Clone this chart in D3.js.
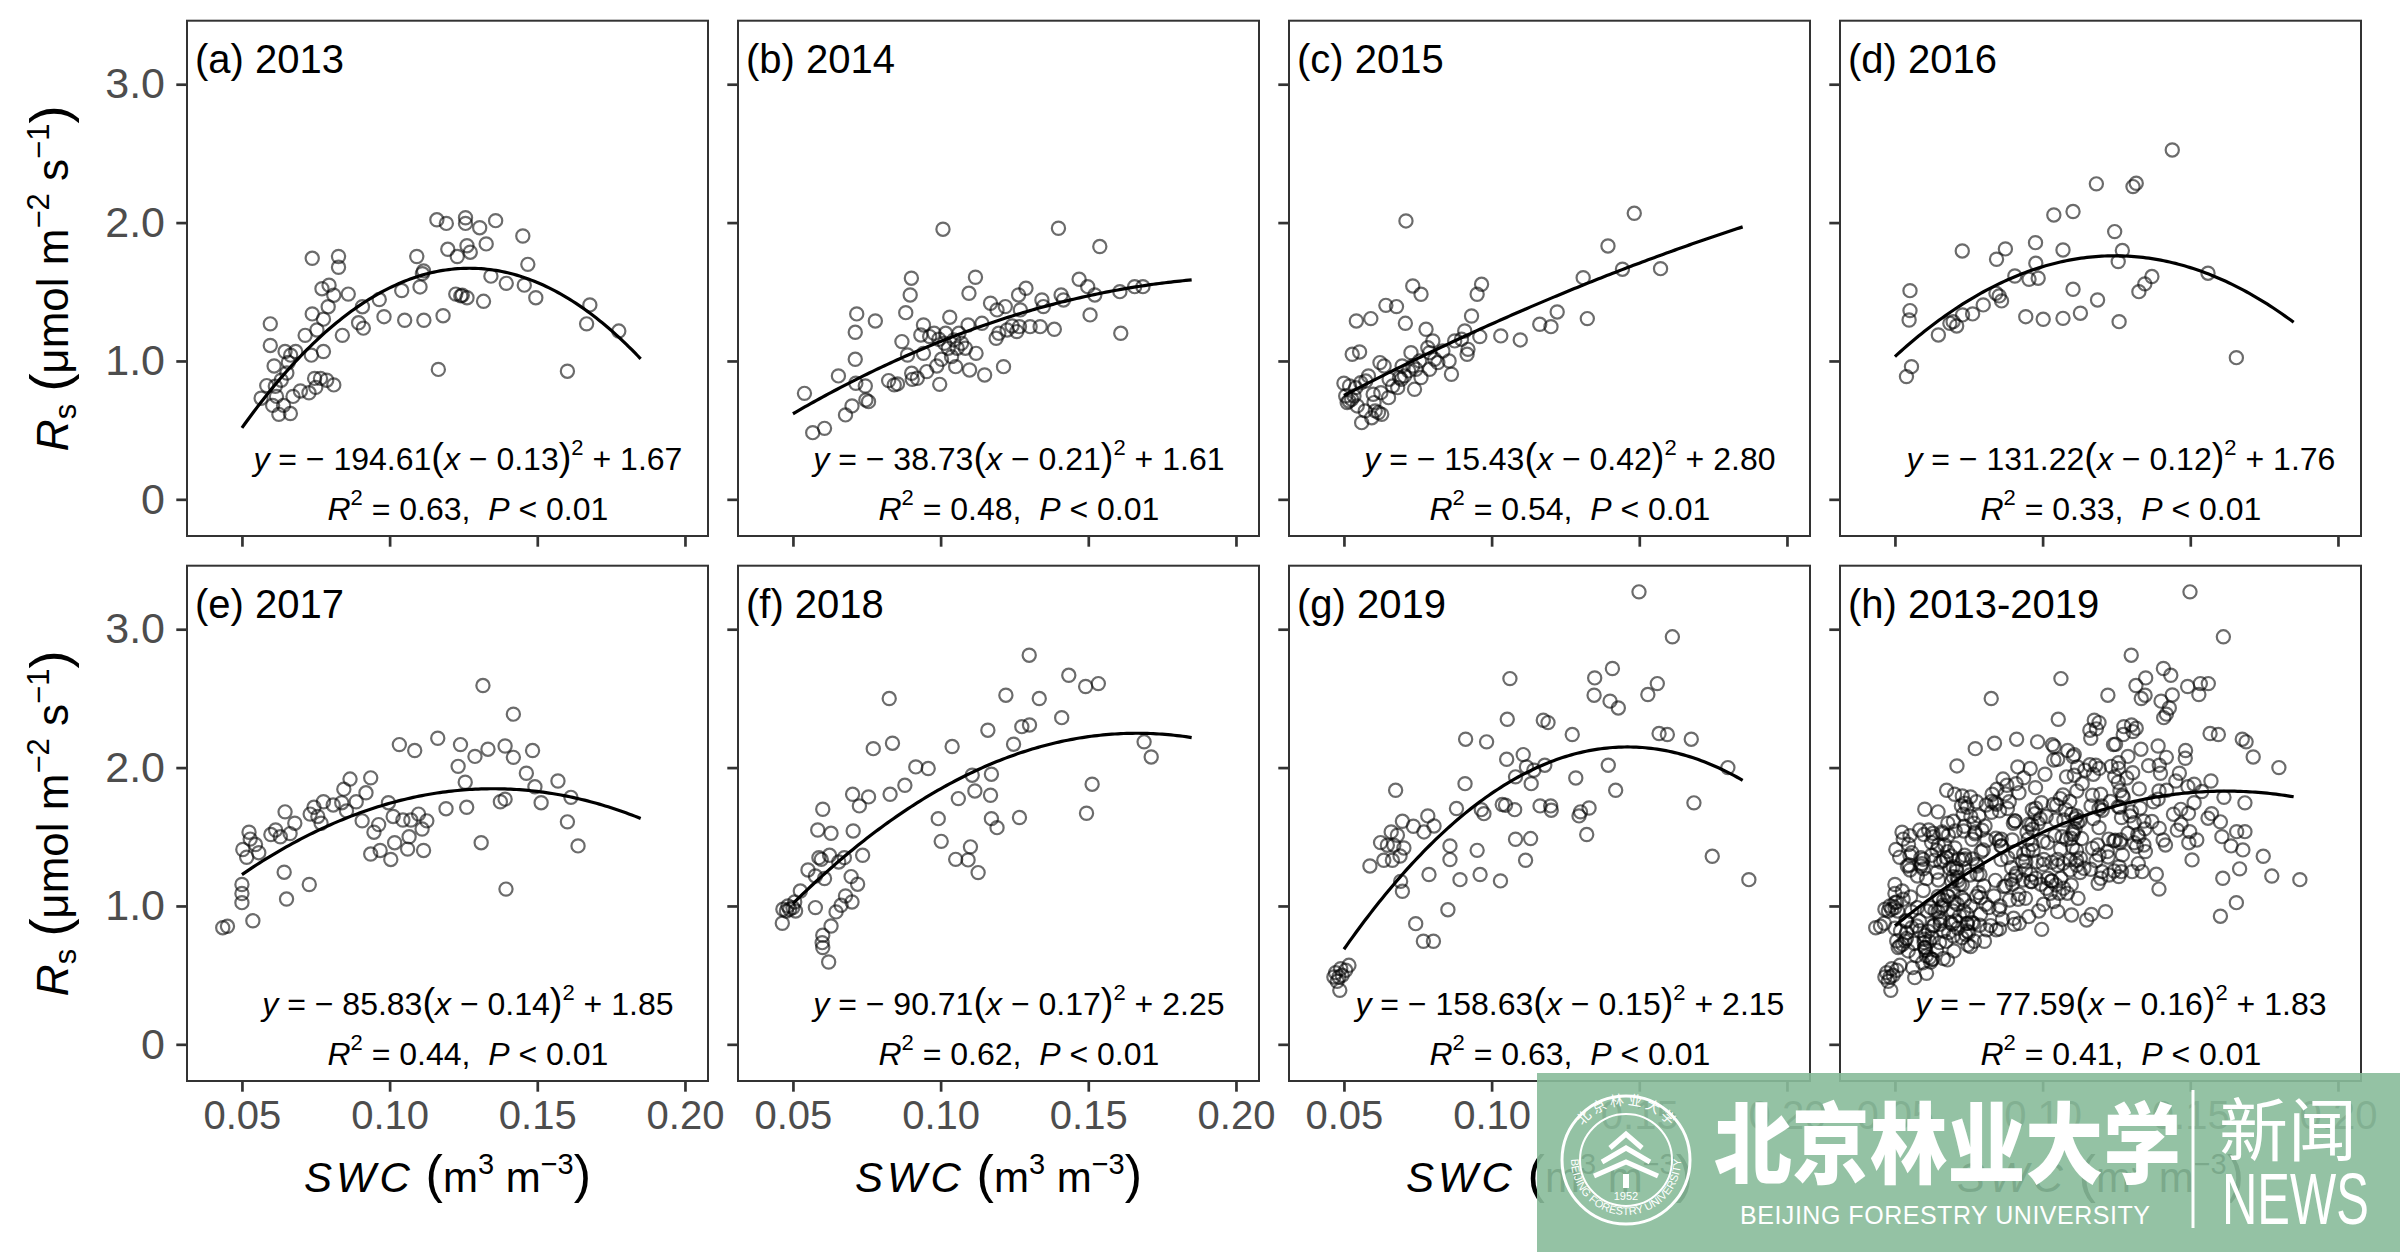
<!DOCTYPE html>
<html>
<head>
<meta charset="utf-8">
<script src="https://cdn.jsdelivr.net/npm/d3@7"></script>
<style>
  body { margin: 0; background: #fff; }
  svg { display: block; font-family: 'Liberation Sans', Arial, sans-serif; }
  text { white-space: pre; }
</style>
</head>
<body>
<div id="chart"></div>
<script>
/* global d3 */

// ---- data (SWC, Rs) ----
const panelTitles = ['(a) 2013', '(b) 2014', '(c) 2015', '(d) 2016', '(e) 2017', '(f) 2018', '(g) 2019', '(h) 2013-2019'];

const obs2013 = [[0.0565,0.731],[0.0584,0.822],[0.0596,1.268],[0.0596,1.112],[0.0604,0.679],[0.0609,0.964],[0.0613,0.817],[0.0617,0.744],[0.0625,0.614],[0.0633,0.861],[0.0641,0.679],[0.0646,1.068],[0.0652,0.913],[0.0657,0.990],[0.0664,0.620],[0.0665,1.042],[0.0673,0.744],[0.0682,1.068],[0.0698,0.783],[0.0714,1.185],[0.0727,0.770],[0.0735,1.042],[0.0738,1.742],[0.0738,1.340],[0.0746,0.874],[0.0750,0.809],[0.0754,1.224],[0.0766,0.874],[0.0771,1.522],[0.0776,1.068],[0.0776,1.302],[0.0787,0.861],[0.0792,1.392],[0.0795,1.548],[0.0811,0.827],[0.0811,1.475],[0.0827,1.755],[0.0827,1.677],[0.0840,1.185],[0.0860,1.483],[0.0895,1.276],[0.0908,1.392],[0.0911,1.237],[0.0965,1.444],[0.0981,1.320],[0.1041,1.509],[0.1051,1.294],[0.1092,1.755],[0.1103,1.535],[0.1111,1.631],[0.1116,1.294],[0.1115,1.651],[0.1160,2.020],[0.1165,0.939],[0.1181,1.327],[0.1192,1.994],[0.1197,1.807],[0.1224,1.483],[0.1229,1.755],[0.1241,1.470],[0.1246,1.475],[0.1257,2.035],[0.1262,1.833],[0.1262,1.457],[0.1273,1.786],[0.1305,1.963],[0.1318,1.431],[0.1327,1.846],[0.1343,1.613],[0.1359,2.014],[0.1395,1.561],[0.1451,1.903],[0.1456,1.548],[0.1468,1.698],[0.1495,1.457],[0.1602,0.926],[0.1667,1.268],[0.1678,1.405],[0.1776,1.216],[0.1257,1.994]];

const obs2014 = [[0.0539,0.766],[0.0567,0.482],[0.0607,0.513],[0.0654,0.892],[0.0678,0.610],[0.0700,0.675],[0.0711,1.012],[0.0711,1.207],[0.0716,1.340],[0.0713,0.839],[0.0745,0.819],[0.0747,0.718],[0.0756,0.706],[0.0779,1.289],[0.0824,0.858],[0.0843,0.827],[0.0854,0.834],[0.0869,1.140],[0.0882,1.349],[0.0888,1.043],[0.0897,1.477],[0.0901,1.598],[0.0902,0.911],[0.0904,0.867],[0.0921,0.875],[0.0933,1.188],[0.0942,1.260],[0.0942,1.055],[0.0953,0.923],[0.0963,1.176],[0.0978,1.200],[0.0987,0.964],[0.0994,1.157],[0.0997,0.831],[0.1003,1.012],[0.1008,1.952],[0.1013,1.128],[0.1017,1.200],[0.1026,1.092],[0.1031,1.316],[0.1037,1.031],[0.1045,1.152],[0.1051,0.959],[0.1056,1.092],[0.1062,1.200],[0.1071,1.128],[0.1084,1.092],[0.1093,1.260],[0.1096,1.489],[0.1098,0.935],[0.1118,1.605],[0.1120,1.055],[0.1140,1.272],[0.1149,0.899],[0.1169,1.417],[0.1188,1.164],[0.1191,1.369],[0.1197,1.200],[0.1213,0.959],[0.1219,1.393],[0.1225,1.224],[0.1242,1.253],[0.1258,1.212],[0.1264,1.477],[0.1270,1.369],[0.1267,1.248],[0.1289,1.525],[0.1303,1.248],[0.1337,1.248],[0.1343,1.441],[0.1348,1.393],[0.1385,1.229],[0.1399,1.959],[0.1408,1.477],[0.1416,1.441],[0.1469,1.590],[0.1498,1.537],[0.1506,1.333],[0.1522,1.477],[0.1539,1.827],[0.1607,1.501],[0.1610,1.200],[0.1657,1.537],[0.1685,1.537]];

const obs2015 = [[0.0500,0.839],[0.0506,0.747],[0.0511,0.699],[0.0519,0.819],[0.0526,0.723],[0.0534,0.747],[0.0528,1.048],[0.0542,1.289],[0.0545,0.675],[0.0553,1.065],[0.0557,0.843],[0.0560,0.554],[0.0572,0.639],[0.0583,0.892],[0.0591,1.306],[0.0594,0.590],[0.0599,0.759],[0.0606,0.639],[0.0617,0.627],[0.0622,0.988],[0.0628,0.614],[0.0636,0.964],[0.0642,1.402],[0.0651,0.735],[0.0653,0.867],[0.0678,1.393],[0.0682,0.807],[0.0688,0.880],[0.0697,0.964],[0.0705,0.892],[0.0708,1.272],[0.0710,2.012],[0.0719,0.928],[0.0727,1.060],[0.0733,1.542],[0.0733,0.964],[0.0739,0.795],[0.0744,0.940],[0.0756,1.000],[0.0761,1.482],[0.0761,0.880],[0.0778,1.229],[0.0784,1.096],[0.0790,0.940],[0.0801,1.145],[0.0807,1.012],[0.0818,0.988],[0.0835,1.072],[0.0856,1.000],[0.0864,0.904],[0.0875,1.145],[0.0898,1.157],[0.0909,1.217],[0.0917,1.048],[0.0920,1.084],[0.0932,1.325],[0.0951,1.482],[0.0960,1.176],[0.0966,1.554],[0.1031,1.181],[0.1097,1.152],[0.1163,1.265],[0.1201,1.248],[0.1222,1.354],[0.1310,1.602],[0.1324,1.306],[0.1394,1.831],[0.1443,1.663],[0.1483,2.067],[0.1572,1.667],[0.0517,0.711],[0.0540,0.807],[0.0574,0.855],[0.0602,0.699],[0.0625,0.771],[0.0665,0.819],[0.0694,0.867],[0.0790,1.060]];

const obs2016 = [[0.0539,0.887],[0.0556,0.959],[0.0548,1.296],[0.0551,1.364],[0.0551,1.508],[0.0647,1.188],[0.0686,1.272],[0.0697,1.284],[0.0709,1.253],[0.0729,1.333],[0.0728,1.795],[0.0763,1.340],[0.0799,1.405],[0.0842,1.489],[0.0844,1.735],[0.0853,1.470],[0.0861,1.434],[0.0874,1.810],[0.0906,1.614],[0.0943,1.320],[0.0954,1.590],[0.0976,1.855],[0.0977,1.706],[0.0985,1.598],[0.1002,1.301],[0.1038,2.055],[0.1069,1.802],[0.1069,1.308],[0.1103,2.080],[0.1103,1.518],[0.1128,1.345],[0.1182,2.280],[0.1186,1.441],[0.1244,1.935],[0.1256,1.718],[0.1270,1.798],[0.1259,1.284],[0.1306,2.260],[0.1317,2.284],[0.1326,1.501],[0.1346,1.557],[0.1370,1.610],[0.1439,2.525],[0.1560,1.634],[0.1656,1.024]];

const obs2017 = [[0.0435,0.843],[0.0451,0.853],[0.0500,1.155],[0.0500,1.090],[0.0500,1.024],[0.0503,1.408],[0.0516,1.352],[0.0524,1.533],[0.0528,1.483],[0.0537,0.893],[0.0546,1.444],[0.0557,1.385],[0.0598,1.516],[0.0614,1.549],[0.0630,1.500],[0.0643,1.244],[0.0646,1.680],[0.0651,1.050],[0.0663,1.523],[0.0679,1.598],[0.0728,1.155],[0.0731,1.664],[0.0744,1.713],[0.0757,1.647],[0.0776,1.753],[0.0768,1.598],[0.0809,1.730],[0.0838,1.746],[0.0845,1.844],[0.0854,1.687],[0.0866,1.917],[0.0887,1.753],[0.0907,1.615],[0.0920,1.818],[0.0936,1.926],[0.0936,1.375],[0.0947,1.533],[0.0963,1.588],[0.0968,1.401],[0.0996,1.746],[0.1004,1.336],[0.1012,1.647],[0.1017,1.457],[0.1033,2.166],[0.1045,1.621],[0.1061,1.411],[0.1066,1.500],[0.1072,1.621],[0.1085,2.123],[0.1098,1.664],[0.1110,1.556],[0.1115,1.401],[0.1126,1.615],[0.1163,2.212],[0.1191,1.703],[0.1232,2.009],[0.1240,2.166],[0.1256,1.894],[0.1261,1.713],[0.1289,2.081],[0.1310,1.457],[0.1316,2.593],[0.1333,2.133],[0.1375,1.753],[0.1391,2.156],[0.1391,1.772],[0.1394,1.122],[0.1419,2.386],[0.1419,2.074],[0.1463,1.959],[0.1484,2.123],[0.1492,1.861],[0.1513,1.746],[0.1570,1.903],[0.1602,1.608],[0.1614,1.785],[0.1638,1.434]];

const obs2018 = [[0.0464,0.875],[0.0466,0.976],[0.0478,0.964],[0.0489,0.976],[0.0500,0.988],[0.0506,1.029],[0.0509,0.964],[0.0525,1.108],[0.0551,1.260],[0.0576,0.988],[0.0576,1.217],[0.0588,1.349],[0.0584,1.549],[0.0596,1.337],[0.0601,1.699],[0.0601,0.788],[0.0599,0.735],[0.0601,0.699],[0.0607,1.198],[0.0624,1.366],[0.0621,0.595],[0.0629,1.525],[0.0629,0.855],[0.0646,0.957],[0.0655,1.318],[0.0663,1.005],[0.0674,1.349],[0.0678,1.072],[0.0697,1.212],[0.0700,1.029],[0.0702,1.807],[0.0704,1.542],[0.0719,1.157],[0.0725,1.723],[0.0736,1.366],[0.0756,1.788],[0.0772,2.137],[0.0826,2.499],[0.0829,1.807],[0.0837,2.176],[0.0879,1.872],[0.0916,2.005],[0.0958,1.993],[0.0992,1.631],[0.1002,1.467],[0.1039,2.152],[0.1051,1.337],[0.1060,1.776],[0.1093,1.333],[0.1101,1.427],[0.1107,1.945],[0.1116,1.831],[0.1127,1.241],[0.1160,2.270],[0.1169,1.800],[0.1172,1.952],[0.1172,1.631],[0.1191,1.566],[0.1221,2.523],[0.1247,2.169],[0.1267,1.639],[0.1275,2.296],[0.1301,2.308],[0.1300,2.812],[0.1334,2.499],[0.1410,2.361],[0.1434,2.667],[0.1491,2.586],[0.1494,1.670],[0.1513,1.880],[0.1534,2.607],[0.1689,2.186],[0.1713,2.077],[0.0483,1.000]];

const obs2019 = [[0.0472,0.518],[0.0477,0.455],[0.0483,0.487],[0.0486,0.390],[0.0489,0.547],[0.0494,0.499],[0.0506,0.535],[0.0517,0.571],[0.0466,0.487],[0.0588,1.289],[0.0624,1.458],[0.0635,1.330],[0.0647,1.439],[0.0660,1.535],[0.0664,1.330],[0.0669,1.439],[0.0675,1.836],[0.0681,1.511],[0.0690,1.361],[0.0692,1.178],[0.0698,1.612],[0.0698,1.106],[0.0703,1.419],[0.0735,1.576],[0.0743,0.872],[0.0769,0.745],[0.0771,1.535],[0.0784,1.651],[0.0788,1.227],[0.0803,0.745],[0.0805,1.578],[0.0852,0.973],[0.0859,1.434],[0.0859,1.335],[0.0881,1.704],[0.0893,1.190],[0.0910,1.884],[0.0912,2.205],[0.0951,1.402],[0.0961,1.227],[0.0965,1.696],[0.0974,1.667],[0.0983,2.186],[0.1030,1.181],[0.1036,1.733],[0.1047,1.728],[0.1051,2.060],[0.1053,2.349],[0.1062,2.643],[0.1078,1.696],[0.1081,1.933],[0.1081,1.482],[0.1107,2.094],[0.1115,1.330],[0.1118,2.005],[0.1132,1.487],[0.1134,1.884],[0.1143,1.981],[0.1164,1.723],[0.1175,2.342],[0.1180,2.017],[0.1191,2.325],[0.1200,1.723],[0.1202,1.692],[0.1273,2.239],[0.1285,1.925],[0.1296,1.651],[0.1301,1.680],[0.1322,1.516],[0.1330,1.708],[0.1347,2.523],[0.1349,2.648],[0.1395,2.017],[0.1401,2.480],[0.1409,2.716],[0.1420,1.836],[0.1429,2.431],[0.1499,3.270],[0.1529,2.528],[0.1561,2.607],[0.1567,2.246],[0.1595,2.239],[0.1612,2.945],[0.1676,2.205],[0.1685,1.745],[0.1747,1.359],[0.1800,2.000],[0.1871,1.190]];

// the last panel pools every year
const obsAll = [].concat(obs2013, obs2014, obs2015, obs2016, obs2017, obs2018, obs2019);
const panelData = [obs2013, obs2014, obs2015, obs2016, obs2017, obs2018, obs2019, obsAll];

// fitted y = a(x - h)^2 + k, as printed
const coefA = [-194.61, -38.73, -15.43, -131.22, -85.83, -90.71, -158.63, -77.59];
const coefH = [0.13, 0.21, 0.42, 0.12, 0.14, 0.17, 0.15, 0.16];
const coefK = [1.67, 1.61, 2.80, 1.76, 1.85, 2.25, 2.15, 1.83];
const rSquared = [0.63, 0.48, 0.54, 0.33, 0.44, 0.62, 0.63, 0.41];
// vertex of the drawn curve (printed values are rounded)
const curveH = [0.127, 0.21, 0.41, 0.1245, 0.135, 0.1665, 0.146, 0.162];
const curveK = [1.67, 1.61, 2.75, 1.76, 1.847, 2.248, 2.149, 1.83];
const curveSpan = [0.05, 0.185];

const xTicks = [0.05, 0.10, 0.15, 0.20];
const yTicks = [0, 1, 2, 3];

// ---- dimensions ----
const WIDTH = 2400;
const HEIGHT = 1252;
const PANEL_W = 521;
const PANEL_H = 515.3;
const COL_X = [187, 738, 1289, 1840];
const ROW_Y = [20.7, 565.7];
const TICK_LEN = 10.7;
const BORDER = '#333333';
const TICK_TEXT = '#4d4d4d';

// scales (same for every panel)
const scaleX = d3.scaleLinear().domain([0.0314, 0.2078]).range([0, PANEL_W]);
const scaleY = d3.scaleLinear().domain([-0.265, 3.459]).range([PANEL_H, 0]);

const fmtX = d3.format('.2f');
const fmtY = d => (d === 0 ? '0' : d3.format('.1f')(d));
const minus = '\u2212';

const $svg = d3.select('#chart').append('svg')
  .attr('width', WIDTH)
  .attr('height', HEIGHT);

const line = d3.line()
  .x(d => scaleX(d[0]))
  .y(d => scaleY(d[1]));

panelData.forEach((pts, i) => {
  const col = i % 4;
  const row = Math.floor(i / 4);
  const $g = $svg.append('g')
    .attr('transform', `translate(${COL_X[col]}, ${ROW_Y[row]})`);

  // y axis
  const $yAxis = $g.append('g')
    .call(d3.axisLeft(scaleY).tickValues(yTicks).tickSizeInner(TICK_LEN).tickSizeOuter(0)
      .tickPadding(11.3).tickFormat(col === 0 ? fmtY : ''));
  // x axis
  const $xAxis = $g.append('g')
    .attr('transform', `translate(0, ${PANEL_H})`)
    .call(d3.axisBottom(scaleX).tickValues(xTicks).tickSizeInner(TICK_LEN).tickSizeOuter(0)
      .tickPadding(8.6).tickFormat(row === 1 ? fmtX : ''));

  [$yAxis, $xAxis].forEach($a => {
    $a.select('.domain').remove();
    $a.selectAll('line').attr('stroke', BORDER).attr('stroke-width', 2.7);
    $a.selectAll('text')
      .attr('fill', TICK_TEXT)
      .style('font-family', "'Liberation Sans', Arial, sans-serif");
  });
  $yAxis.selectAll('text').style('font-size', '43px');
  $xAxis.selectAll('text').style('font-size', '40px');

  // points
  $g.append('g')
    .selectAll('circle')
    .data(pts)
    .join('circle')
    .attr('cx', d => scaleX(d[0]))
    .attr('cy', d => scaleY(d[1]))
    .attr('r', 6.6)
    .attr('fill', 'none')
    .attr('stroke', 'rgba(0,0,0,0.58)')
    .attr('stroke-width', 2.2);

  // fitted curve
  const curve = d3.range(curveSpan[0], curveSpan[1] + 1e-9, 0.001)
    .map(x => [x, coefA[i] * (x - curveH[i]) ** 2 + curveK[i]]);
  $g.append('path')
    .attr('d', line(curve))
    .attr('fill', 'none')
    .attr('stroke', '#000')
    .attr('stroke-width', 3.2);

  // panel title
  $g.append('text')
    .attr('x', 8)
    .attr('y', 52)
    .attr('font-size', 40)
    .attr('fill', '#000')
    .text(panelTitles[i]);

  // equation
  const cx = scaleX(0.1265);
  const $eq = $g.append('text')
    .attr('x', cx)
    .attr('y', 449)
    .attr('text-anchor', 'middle')
    .attr('font-size', 32);
  $eq.append('tspan').attr('font-style', 'italic').text('y');
  $eq.append('tspan').text(` = ${minus} ${Math.abs(coefA[i]).toFixed(2)}`);
  $eq.append('tspan').attr('font-size', 38).text('(');
  $eq.append('tspan').attr('font-style', 'italic').text('x');
  $eq.append('tspan').text(` ${minus} ${coefH[i].toFixed(2)}`);
  $eq.append('tspan').attr('font-size', 38).text(')');
  $eq.append('tspan').attr('font-size', 22).attr('dy', -15).text('2');
  $eq.append('tspan').attr('dy', 15).text(` + ${coefK[i].toFixed(2)}`);

  const $r2 = $g.append('text')
    .attr('x', cx)
    .attr('y', 499.5)
    .attr('text-anchor', 'middle')
    .attr('font-size', 32);
  $r2.append('tspan').attr('font-style', 'italic').text('R');
  $r2.append('tspan').attr('font-size', 22).attr('dy', -15).text('2');
  $r2.append('tspan').attr('dy', 15).text(` = ${rSquared[i].toFixed(2)},  `);
  $r2.append('tspan').attr('font-style', 'italic').text('P');
  $r2.append('tspan').text(' < 0.01');

  // frame
  $g.append('rect')
    .attr('width', PANEL_W)
    .attr('height', PANEL_H)
    .attr('fill', 'none')
    .attr('stroke', BORDER)
    .attr('stroke-width', 2);

  // axis titles
  if (col === 0) {
    const $yt = $svg.append('text')
      .attr('transform', `translate(68, ${ROW_Y[row] + PANEL_H / 2}) rotate(-90)`)
      .attr('text-anchor', 'middle')
      .attr('font-size', 44)
      .attr('fill', '#000');
    $yt.append('tspan').attr('font-style', 'italic').text('R');
    $yt.append('tspan').attr('font-size', 31).attr('dy', 8).text('s');
    $yt.append('tspan').attr('dy', -8).text(' ');
    $yt.append('tspan').attr('font-size', 54).text('(');
    $yt.append('tspan').text('μmol m');
    $yt.append('tspan').attr('font-size', 31).attr('dy', -19).text(`${minus}2`);
    $yt.append('tspan').attr('dy', 19).text(' s');
    $yt.append('tspan').attr('font-size', 31).attr('dy', -19).text(`${minus}1`);
    $yt.append('tspan').attr('dy', 19).attr('font-size', 54).text(')');
  }
  if (row === 1) {
    const $xt = $g.append('text')
      .attr('x', PANEL_W / 2)
      .attr('y', PANEL_H + 111)
      .attr('text-anchor', 'middle')
      .attr('font-size', 42)
      .attr('fill', '#000');
    $xt.append('tspan').attr('font-style', 'italic').attr('letter-spacing', 4).text('SWC');
    $xt.append('tspan').text(' ');
    $xt.append('tspan').attr('font-size', 52).text('(');
    $xt.append('tspan').text('m');
    $xt.append('tspan').attr('font-size', 29).attr('dy', -18).text('3');
    $xt.append('tspan').attr('dy', 18).text(' m');
    $xt.append('tspan').attr('font-size', 29).attr('dy', -18).text(`${minus}3`);
    $xt.append('tspan').attr('dy', 18).attr('font-size', 52).text(')');
  }
});

// ---- watermark overlay (bottom right) ----
const $wm = $svg.append('g').attr('class', 'g-watermark');
$wm.append('rect')
  .attr('x', 1537).attr('y', 1073)
  .attr('width', WIDTH - 1537).attr('height', HEIGHT - 1073)
  .attr('fill', '#88bb9a')
  .attr('opacity', 0.9);

const LOGO_X = 1626;
const LOGO_Y = 1160;
$wm.append('circle').attr('cx', LOGO_X).attr('cy', LOGO_Y).attr('r', 64)
  .attr('fill', 'none').attr('stroke', '#fff').attr('stroke-width', 3);
$wm.append('circle').attr('cx', LOGO_X).attr('cy', LOGO_Y).attr('r', 46)
  .attr('fill', 'none').attr('stroke', '#fff').attr('stroke-width', 2);
$wm.append('path').attr('id', 'logo-ring')
  .attr('d', `M ${LOGO_X - 55} ${LOGO_Y} A 55 55 0 1 0 ${LOGO_X + 55} ${LOGO_Y}`)
  .attr('fill', 'none');
$wm.append('text').attr('font-size', 11).attr('fill', '#fff')
  .append('textPath').attr('href', '#logo-ring').attr('startOffset', '50%')
  .attr('text-anchor', 'middle')
  .text('BEIJING FORESTRY UNIVERSITY');
$wm.append('path').attr('id', 'logo-top')
  .attr('d', `M ${LOGO_X - 55} ${LOGO_Y} A 55 55 0 0 1 ${LOGO_X + 55} ${LOGO_Y}`)
  .attr('fill', 'none');
$wm.append('text').attr('font-size', 14).attr('fill', '#fff')
  .style('font-family', "'Noto Sans CJK SC', sans-serif")
  .append('textPath').attr('href', '#logo-top').attr('startOffset', '50%')
  .attr('text-anchor', 'middle')
  .text('北 京 林 业 大 学');
// emblem: stacked chevrons
[0, 1, 2].forEach(k => {
  const w = 16 + k * 8;
  const y0 = LOGO_Y - 26 + k * 14;
  $wm.append('path')
    .attr('d', `M ${LOGO_X - w} ${y0 + 14} L ${LOGO_X} ${y0} L ${LOGO_X + w} ${y0 + 14}`)
    .attr('fill', 'none').attr('stroke', '#fff').attr('stroke-width', 5);
});
$wm.append('rect').attr('x', LOGO_X - 3).attr('y', LOGO_Y + 14).attr('width', 6).attr('height', 14).attr('fill', '#fff');
$wm.append('text').attr('x', LOGO_X).attr('y', LOGO_Y + 40).attr('text-anchor', 'middle')
  .attr('font-size', 11).attr('fill', '#fff').text('1952');

$wm.append('text')
  .attr('x', 1714).attr('y', 1176)
  .attr('font-size', 88)
  .attr('font-weight', 900)
  .attr('fill', '#fff')
  .attr('textLength', 467)
  .attr('lengthAdjust', 'spacingAndGlyphs')
  .style('font-family', "'Noto Sans CJK SC', sans-serif")
  .text('北京林业大学');
$wm.append('text')
  .attr('x', 1740).attr('y', 1224)
  .attr('font-size', 25)
  .attr('fill', '#fff')
  .attr('textLength', 410)
  .attr('lengthAdjust', 'spacing')
  .text('BEIJING FORESTRY UNIVERSITY');
$wm.append('line')
  .attr('x1', 2193).attr('x2', 2193).attr('y1', 1090).attr('y2', 1228)
  .attr('stroke', '#fff').attr('stroke-width', 3);
$wm.append('text')
  .attr('x', 2219).attr('y', 1156)
  .attr('font-size', 69)
  .attr('fill', '#fff')
  .attr('textLength', 138)
  .style('font-family', "'Noto Sans CJK SC', sans-serif")
  .text('新闻');
$wm.append('text')
  .attr('transform', 'translate(2222, 1224) scale(0.68, 1)')
  .attr('font-size', 72)
  .attr('fill', '#fff')
  .text('NEWS');
</script>
</body>
</html>
